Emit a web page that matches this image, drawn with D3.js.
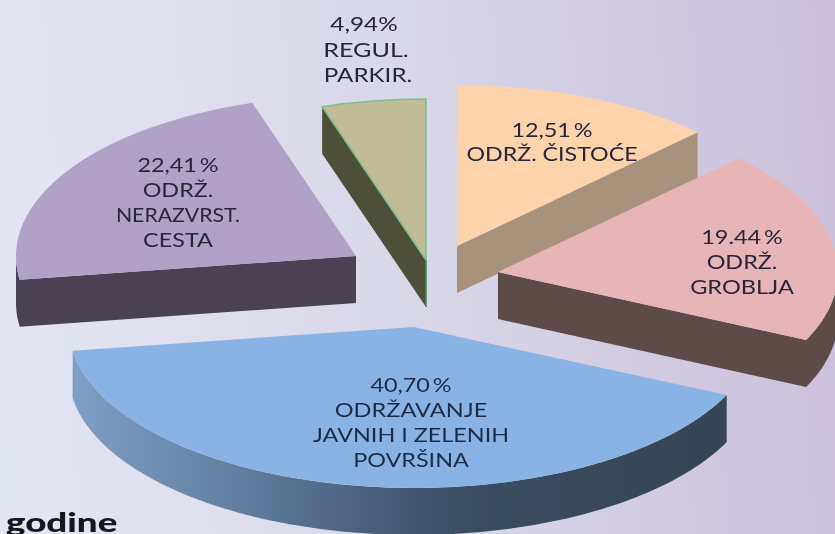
<!DOCTYPE html>
<html><head><meta charset="utf-8">
<script src="https://cdn.jsdelivr.net/npm/d3@7"></script>
<style>html,body{margin:0;padding:0;overflow:hidden}svg{display:block}text{font-family:Lato,"Open Sans",sans-serif}</style>
</head><body><div id="c"></div>
<script>
// Data
const categories = ["Održ. čistoće", "Održ. groblja", "Održavanje javnih i zelenih površina", "Održ. nerazvrst. cesta", "Regul. parkir."];
const values = [12.51, 19.44, 40.70, 22.41, 4.94];
const labelLines = [
  ["12,51\u2009%", "ODRŽ. ČISTOĆE"],
  ["19.44\u2009%", "ODRŽ.", "GROBLJA"],
  ["40,70\u2009%", "ODRŽAVANJE", "JAVNIH I ZELENIH", "POVRŠINA"],
  ["22,41\u2009%", "ODRŽ.", "NERAZVRST.", "CESTA"],
  ["4,94%", "REGUL.", "PARKIR."]
];
const footerText = "godine";

// Styles and layout
const topColors = ["#fdd3ac", "#e7b5b5", "#8ab3e5", "#b2a1c7", "#c2bb97"];
const wallColors = ["#a8927b", "#5e4b48", "url(#blueWall)", "#4a4155", "#4e4f38"];
const apexes = [[457,246],[498,272],[414,327],[356,256],[426,260]];
const widen = [1,1,1.015,1,1];
const labelPos = [[552,130],[742,237],[411,385],[178,165],[365,24]];
const lineStep = [24,25,25,25,25.5];
const lineStretch = [[1.2,1.19],[1.2,1.2,1.21],[1.2,1.21,1.2,1.2],[1.2,1.2,1.09,1.2],[1.25,1.29,1.24]];
const lineShift = [[0,0],[0,0,0],[0,0,0,0],[0,0,0,0],[-1,1,3]];
const W = 835, H = 534, R = 340, tilt = 161/340, depth = 47;
const drawOrder = [0,1,4,3,2];

const svg = d3.select("#c").append("svg").attr("width",W).attr("height",H);
const defs = svg.append("defs");
const bg = defs.append("linearGradient").attr("id","bg").attr("gradientUnits","userSpaceOnUse")
  .attr("x1",0).attr("y1",60).attr("x2",W).attr("y2",0);
[[0,"#e2e5f3"],[0.5,"#d8d6e9"],[1,"#cabfda"]].forEach(s=>bg.append("stop").attr("offset",s[0]).attr("stop-color",s[1]));
const bw = defs.append("linearGradient").attr("id","blueWall").attr("gradientUnits","userSpaceOnUse")
  .attr("x1",72).attr("y1",0).attr("x2",730).attr("y2",0);
[[0,"#7f9fc6"],[0.28,"#5f7a9b"],[0.52,"#41566f"],[0.62,"#3a4c61"],[1,"#354555"]].forEach(s=>bw.append("stop").attr("offset",s[0]).attr("stop-color",s[1]));
defs.append("filter").attr("id","soft").append("feGaussianBlur").attr("stdDeviation",0.35);

svg.append("rect").attr("width",W).attr("height",H).attr("fill","url(#bg)");

const pie = d3.pie().sort(null).value(d=>d).startAngle(0).endAngle(2*Math.PI);
const arcs = pie(values);
const arc = d3.arc().innerRadius(0).outerRadius(R);
const line = d3.line();

function outline(a, i){
  const [ax,ay] = apexes[i];
  const n = Math.max(2, Math.ceil((a.endAngle-a.startAngle)/0.02));
  const pts = [[ax,ay]];
  for(let k=0;k<=n;k++){
    const t = a.startAngle+(a.endAngle-a.startAngle)*k/n;
    pts.push([ax+widen[i]*R*Math.sin(t), ay-R*tilt*Math.cos(t)]);
  }
  return pts;
}

const slices = svg.selectAll("g.slice").data(drawOrder.map(i=>({a:arcs[i],i}))).join("g").attr("class","slice");
slices.each(function(d){
  const g = d3.select(this), pts = outline(d.a,d.i);
  // one path holding every front-facing wall quad, so no seams show between them
  let wallPath = "";
  pts.forEach((p,k)=>{
    const q = pts[(k+1)%pts.length];
    if(q[0] < p[0]) wallPath += line([p,[q[0],q[1]],[q[0],q[1]+depth],[p[0],p[1]+depth]])+"Z";
  });
  g.append("path").attr("d",wallPath).attr("fill",wallColors[d.i]);
  g.append("path")
    .attr("d",arc(d.a))
    .attr("transform",`translate(${apexes[d.i]}) scale(${widen[d.i]},${tilt})`)
    .attr("fill",topColors[d.i]);
  if(d.i===4){
    const [ax,ay]=apexes[4];
    g.append("path").attr("d",arc(d.a)).attr("transform",`translate(${apexes[4]}) scale(1,${tilt})`)
      .attr("fill","none").attr("stroke","#7cc08e").attr("stroke-width",1.6).attr("vector-effect","non-scaling-stroke");
    g.append("path").attr("d",line([[ax,ay],[ax,ay+depth]])).attr("stroke","#3f8f5a").attr("stroke-width",1.6).attr("fill","none");
  }
});

const labels = svg.selectAll("g.label").data(labelLines).join("g").attr("class","label").attr("filter","url(#soft)");
labels.each(function(lines,i){
  d3.select(this).selectAll("text").data(lines).join("text")
    .attr("transform",(_,k)=>`translate(${labelPos[i][0]+lineShift[i][k]},${labelPos[i][1]+k*lineStep[i]}) scale(${lineStretch[i][k]},1)`)
    .attr("dy","0.36em").attr("text-anchor","middle")
    .attr("font-size",19.5).attr("fill",i===2?"#1c2c44":"#27253a").text(t=>t);
});
svg.append("text").attr("transform","translate(6,532) scale(1.36,1)").attr("font-size",27).attr("font-weight",900)
  .attr("fill","#14141c").attr("filter","url(#soft)").text(footerText);
</script></body></html>
